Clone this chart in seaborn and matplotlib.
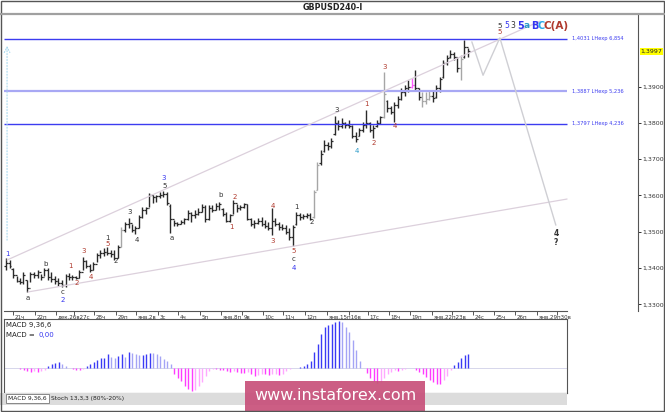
import numpy as np
import seaborn as sns
import matplotlib
matplotlib.use("Agg")
import matplotlib.pyplot as plt
from matplotlib.patches import Rectangle
from matplotlib.lines import Line2D
from matplotlib.transforms import blended_transform_factory

sns.set_style("white")
plt.rcParams['font.family'] = ['DejaVu Sans']

# ---------------- data (GBPUSD, 4H bars) ----------------
opens = [
1.3405,1.3415,1.3398,1.3380,1.3365,1.3362,1.3366,1.3346,1.3383,1.3380,
1.3388,1.3375,1.3395,1.3375,1.3370,1.3365,1.3360,1.3352,1.3378,1.3375,
1.3374,1.3372,1.3390,1.3420,1.3405,1.3395,1.3410,1.3436,1.3440,1.3445,
1.3442,1.3438,1.3428,1.3458,1.3505,1.3520,1.3525,1.3505,1.3510,1.3540,
1.3560,1.3565,1.3600,1.3595,1.3598,1.3600,1.3605,1.3570,1.3535,1.3525,
1.3522,1.3528,1.3535,1.3552,1.3545,1.3550,1.3555,1.3568,1.3535,1.3565,
1.3560,1.3570,1.3562,1.3548,1.3530,1.3545,1.3580,1.3565,1.3568,1.3575,
1.3535,1.3522,1.3525,1.3530,1.3520,1.3515,1.3510,1.3530,1.3522,1.3512,
1.3510,1.3500,1.3485,1.3520,1.3545,1.3540,1.3542,1.3545,1.3540,1.3615,
1.3688,1.3722,1.3740,1.3735,1.3768,1.3800,1.3790,1.3800,1.3795,1.3790,
1.3765,1.3765,1.3780,1.3795,1.3800,1.3780,1.3792,1.3800,1.3815,1.3860,
1.3840,1.3830,1.3850,1.3865,1.3885,1.3895,1.3900,1.3905,1.3895,1.3870,
1.3860,1.3865,1.3875,1.3870,1.3895,1.3925,1.3965,1.3980,1.3990,1.3980,
1.3950,1.3980,1.4010]
highs = [
1.3428,1.3422,1.3400,1.3378,1.3372,1.3389,1.3367,1.3389,1.3389,1.3394,
1.3383,1.3400,1.3400,1.3389,1.3378,1.3372,1.3367,1.3383,1.3386,1.3380,
1.3378,1.3394,1.3431,1.3422,1.3411,1.3416,1.3441,1.3449,1.3455,1.3458,
1.3450,1.3450,1.3463,1.3513,1.3527,1.3538,1.3521,1.3516,1.3546,1.3568,
1.3568,1.3607,1.3601,1.3601,1.3609,1.3612,1.3609,1.3576,1.3532,1.3527,
1.3532,1.3538,1.3560,1.3554,1.3560,1.3565,1.3576,1.3573,1.3573,1.3573,
1.3579,1.3582,1.3565,1.3554,1.3549,1.3587,1.3576,1.3573,1.3579,1.3576,
1.3538,1.3532,1.3538,1.3540,1.3532,1.3527,1.3565,1.3538,1.3527,1.3521,
1.3518,1.3510,1.3518,1.3554,1.3551,1.3549,1.3551,1.3551,1.3615,1.3692,
1.3725,1.3753,1.3747,1.3758,1.3819,1.3808,1.3813,1.3802,1.3808,1.3794,
1.3775,1.3786,1.3802,1.3835,1.3802,1.3794,1.3808,1.3819,1.3940,1.3863,
1.3846,1.3857,1.3874,1.3896,1.3904,1.3918,1.3923,1.3946,1.3896,1.3885,
1.3885,1.3890,1.3890,1.3904,1.3926,1.3973,1.3987,1.4001,1.3995,1.3981,
1.3987,1.4028,1.4006]
lows = [
1.3394,1.3400,1.3372,1.3361,1.3356,1.3356,1.3334,1.3361,1.3372,1.3372,
1.3367,1.3378,1.3367,1.3361,1.3356,1.3350,1.3347,1.3347,1.3367,1.3367,
1.3369,1.3372,1.3394,1.3400,1.3389,1.3394,1.3416,1.3427,1.3433,1.3436,
1.3430,1.3422,1.3427,1.3458,1.3499,1.3510,1.3499,1.3494,1.3510,1.3538,
1.3549,1.3568,1.3579,1.3582,1.3593,1.3595,1.3573,1.3496,1.3516,1.3516,
1.3521,1.3521,1.3532,1.3527,1.3538,1.3546,1.3554,1.3527,1.3532,1.3554,
1.3560,1.3560,1.3543,1.3527,1.3527,1.3549,1.3554,1.3560,1.3565,1.3532,
1.3516,1.3510,1.3521,1.3516,1.3510,1.3505,1.3491,1.3516,1.3505,1.3505,
1.3494,1.3477,1.3461,1.3518,1.3532,1.3535,1.3538,1.3532,1.3538,1.3615,
1.3684,1.3720,1.3725,1.3731,1.3766,1.3780,1.3786,1.3786,1.3786,1.3758,
1.3747,1.3764,1.3775,1.3786,1.3775,1.3758,1.3789,1.3797,1.3813,1.3830,
1.3824,1.3802,1.3841,1.3863,1.3874,1.3885,1.3896,1.3890,1.3863,1.3843,
1.3852,1.3863,1.3857,1.3868,1.3885,1.3923,1.3959,1.3979,1.3973,1.3940,
1.3918,1.3979,1.3981]
closes = [
1.3415,1.3405,1.3380,1.3365,1.3362,1.3380,1.3345,1.3383,1.3380,1.3388,
1.3375,1.3395,1.3375,1.3370,1.3365,1.3360,1.3352,1.3378,1.3375,1.3374,
1.3372,1.3390,1.3420,1.3405,1.3395,1.3410,1.3436,1.3440,1.3445,1.3442,
1.3438,1.3428,1.3458,1.3505,1.3520,1.3525,1.3505,1.3510,1.3540,1.3560,
1.3565,1.3600,1.3595,1.3598,1.3600,1.3605,1.3578,1.3535,1.3525,1.3522,
1.3528,1.3535,1.3552,1.3545,1.3550,1.3555,1.3568,1.3535,1.3565,1.3560,
1.3570,1.3575,1.3548,1.3530,1.3545,1.3580,1.3565,1.3568,1.3575,1.3535,
1.3522,1.3525,1.3530,1.3520,1.3515,1.3510,1.3530,1.3522,1.3512,1.3510,
1.3500,1.3485,1.3512,1.3545,1.3540,1.3542,1.3545,1.3535,1.3610,1.3685,
1.3715,1.3740,1.3735,1.3750,1.3800,1.3790,1.3800,1.3795,1.3790,1.3765,
1.3755,1.3780,1.3795,1.3800,1.3780,1.3785,1.3800,1.3815,1.3880,1.3840,
1.3830,1.3850,1.3865,1.3885,1.3895,1.3900,1.3905,1.3895,1.3870,1.3860,
1.3865,1.3875,1.3868,1.3895,1.3920,1.3965,1.3978,1.3990,1.3980,1.3950,
1.3975,1.4010,1.3997]
# MACD 9,36,6 histogram, in pips
macd = [
0,0.3,0,-0.3,-0.5,-1.3,-2.4,-2.9,-2.7,-2.9,
-2.4,-1.3,1.9,2.9,4.0,4.5,3.5,1.9,0.0,-0.5,
-1.3,-1.9,-0.5,1.3,3.5,5.1,6.7,8.3,8.3,10.9,
8.8,8.3,9.3,11.5,8.8,12.8,12.3,11.5,10.1,10.1,
11.5,12.3,12.0,10.9,9.3,7.5,5.3,2.9,-4.5,-7.7,
-10.4,-14.7,-16.8,-18.4,-17.3,-14.7,-11.2,-6.7,-2.4,-0.8,
-0.8,-1.3,-1.9,-2.7,-3.2,-2.7,-3.2,-4.0,-4.0,-3.5,
-4.5,-6.7,-5.6,-4.5,-5.1,-5.6,-5.1,-4.5,-5.6,-4.5,
-2.4,-0.8,-0.3,0.0,0.8,1.9,3.5,5.3,12.8,19.5,
26.9,32.8,34.4,35.5,36.8,37.3,36.5,32.8,28.8,22.1,
14.1,5.3,0.0,-4.0,-7.7,-10.4,-12.0,-11.2,-7.7,-5.1,
-2.9,-1.9,-2.4,-1.9,-0.8,-0.3,0.0,-1.9,-3.5,-5.1,
-7.2,-9.3,-11.5,-12.5,-13.1,-9.9,-6.7,-1.3,2.1,4.8,
8.0,10.7,11.5]
light_bars = [33, 88, 89, 108, 119, 120, 121, 130]
pink_bars = [116]

# day starts on the time axis; "" where the label merges into the previous one
day_labels = ["21ч", "22п", "дек.26в27с", "", "28ч", "29п", "янв.2в", "3с", "4ч", "5п",
              "янв.8п", "9в", "10с", "11ч", "12п", "янв.15п16в", "", "17с", "18ч", "19п",
              "янв.22п23в", "", "24с", "25ч", "26п", "янв.29п30в", ""]
day_ticks = [2, 8.3, 14.3, 19.4, 25.1, 31.4, 37.1, 43.4, 49.1, 55.4,
             61.4, 67.4, 73.4, 79.1, 85.4, 91.7, 98, 103.4, 109.4, 115.4,
             121.7, 127.4, 133.4, 139.4, 145.4, 151.7, 157.4]

levels = [1.4031, 1.3887, 1.3797]
level_texts = ["1,4031 LHexp 6,854", "1,3887 LHexp 5,236", "1,3797 LHexp 4,236"]
level_colors = ["#3c3cf0", "#a8a8f4", "#3c3cf0"]
last_price = 1.3997

# wave counts: bar position, price, text, colour key
waves = [
    (0.3, 1.3439, '1', 'b'), (6.3, 1.3317, 'a', 'k'), (11.4, 1.3411, 'b', 'k'),
    (16.3, 1.3334, 'c', 'k'), (16.3, 1.3312, '2', 'b'), (18.3, 1.3406, '1', 'r'),
    (20.3, 1.3359, '2', 'r'), (22.3, 1.3447, '3', 'r'), (24.3, 1.3375, '4', 'r'),
    (29.1, 1.3483, '1', 'k'), (29.1, 1.3466, '5', 'r'), (31.4, 1.3419, '2', 'k'),
    (35.4, 1.3554, '3', 'k'), (37.4, 1.3477, '4', 'k'), (45.1, 1.3648, '3', 'b'),
    (45.4, 1.3626, '5', 'k'), (47.4, 1.3483, 'a', 'k'), (61.4, 1.3601, 'b', 'k'),
    (64.3, 1.3513, '1', 'r'), (65.4, 1.3596, '2', 'r'), (76.3, 1.3571, '4', 'r'),
    (76.3, 1.3474, '3', 'r'), (82.3, 1.3447, '5', 'r'), (82.3, 1.3425, 'c', 'k'),
    (82.3, 1.3400, '4', 'b'), (83.1, 1.3568, '1', 'k'), (87.4, 1.3527, '2', 'k'),
    (94.6, 1.3835, '3', 'k'), (100.3, 1.3722, '4', 't'), (103.1, 1.3852, '1', 'r'),
    (105.1, 1.3744, '2', 'r'), (108.3, 1.3954, '3', 'r'), (111.1, 1.3791, '4', 'r'),
    (141.1, 1.4050, '5', 'r'),
]
# stacked degree labels at the projected top
top_x = [141.1, 143.1, 144.9, 147.1, 148.9, 151.1, 152.9, 157.1]
top_txt = ['5', '5', '3', '5', 'a', 'B', 'C', 'C(A)']
top_col = ['k', 'b', 'k', 'b', 't', 'b', 'c', 'r']
top_size = [5.2, 5.5, 5.5, 7, 6.5, 7, 7, 7.5]
top_price = 1.4067

upper_line = ([0.3, 152.6], [1.3422, 1.4080])
lower_line = ([6.3, 160.3], [1.3334, 1.3590])
zig_x = [133.1, 136.3, 141.1, 157.1]
zig_y = [1.4023, 1.3931, 1.4034, 1.3518]

cols = {'k': '#333333', 'r': '#b03a2e', 'b': '#3535f0', 't': '#2a9ac8', 'c': '#28a8e8'}

# ---------------- figure ----------------
W, H = 665, 412
fig = plt.figure(figsize=(W / 100, H / 100), dpi=100)
fig.patch.set_facecolor('white')

def px(x0, y0, x1, y1):
    return [x0 / W, 1 - y1 / H, (x1 - x0) / W, (y1 - y0) / H]

def bx(x):  # pixel x -> bar index
    return (x - 6) / 3.5

ax = fig.add_axes(px(4, 15, 638, 311))
ax.set_xlim(bx(4), bx(638))
ax.set_ylim(1.33 + (304.3 - 311) / 3630, 1.33 + (304.3 - 15) / 3630)

idx = np.arange(len(closes))
o, hi, lo, c = map(np.array, (opens, highs, lows, closes))
bar_col = ['#2a2a2a'] * len(idx)
for i in light_bars:
    bar_col[i] = '#a6a6a6'
for i in pink_bars:
    bar_col[i] = '#ff5cff'
ax.vlines(idx, lo, hi, colors=bar_col, lw=1.0)
ax.hlines(o, idx - 0.45, idx, colors=bar_col, lw=0.9)
ax.hlines(c, idx, idx + 0.45, colors=bar_col, lw=0.9)

# levels
for lv, t, lc in zip(levels, level_texts, level_colors):
    ax.hlines(lv, bx(4), bx(567), colors=lc, lw=1.6 if lc == '#a8a8f4' else 1.0)
    ax.text(bx(572), lv, t, fontsize=3.7, color='#3c3cf0', va='center', ha='left')

# channel and projection lines
ax.plot(*upper_line, color='#dcd0dc', lw=0.9)
ax.plot(*lower_line, color='#dcd0dc', lw=0.9)
sns.lineplot(x=zig_x, y=zig_y, ax=ax, color='#cfcfd4', lw=1.0, sort=False, estimator=None)
ax.annotate('', xy=(0.3, 1.4020), xytext=(0.3, 1.3469),
            arrowprops=dict(arrowstyle='->', color='#a8d8ee', lw=0.8, linestyle=':'))

for x, y, t, k in waves:
    ax.text(x, y, t, fontsize=5, color=cols[k], ha='center', va='center')
for x, t, k, s in zip(top_x, top_txt, top_col, top_size):
    ax.text(x, top_price, t, fontsize=s, color=cols[k], ha='center', va='center',
            weight='bold' if s >= 6.5 else 'normal')
ax.text(157.1, 1.3496, '4', fontsize=5.5, color='#333333', ha='center', va='center', weight='bold')
ax.text(157.1, 1.3471, '?', fontsize=5.5, color='#333333', ha='center', va='center', weight='bold')

# axes styling
for s in ['left', 'top']:
    ax.spines[s].set_visible(False)
ax.spines['right'].set_color('#555555')
ax.spines['bottom'].set_color('#555555')
ax.spines['bottom'].set_bounds(bx(4), bx(567))
ax.yaxis.tick_right()
yt = [1.33, 1.34, 1.35, 1.36, 1.37, 1.38, 1.39]
ax.set_yticks(yt)
ax.set_yticklabels([f"{v:.4f}".replace('.', ',') for v in yt])
ax.tick_params(axis='y', length=2, width=0.7, pad=0.8, labelsize=4.5, colors='#333333')
ax.set_xticks(day_ticks)
ax.set_xticklabels([])
ax.tick_params(axis='x', length=3, width=0.7, direction='out', colors='#555555', bottom=True)
tr = blended_transform_factory(ax.transData, ax.transAxes)
for t, lab in zip(day_ticks, day_labels):
    if lab:
        ax.text(t + 0.4, -0.012, lab, transform=tr, fontsize=4.0, color='#333333',
                ha='left', va='top')
ax.text(1.004, last_price, "1,3997", transform=ax.get_yaxis_transform(), fontsize=4.5,
        va='center', ha='left', color='#222222',
        bbox=dict(boxstyle='square,pad=0.15', fc='#ffff00', ec='none'))
ax.grid(False)

# MACD panel
mx = fig.add_axes(px(4, 319, 567, 393))
mx.set_xlim(bx(4), bx(567))
mx.set_ylim(-20, 39.2)
mv = np.array(macd)
mcol = []
for i, v in enumerate(mv):
    prev = mv[i - 1] if i else v
    if v >= 0:
        mcol.append('#3a3af5' if v >= prev else '#a4a4f5')
    else:
        mcol.append('#ff3cff' if v <= prev else '#ffa8ff')
mx.vlines(idx, 0, mv, colors=mcol, lw=1.0)
mx.axhline(0, color='#d0d0e8', lw=0.6, zorder=0)
mx.set_xticks([])
mx.set_yticks([])
for s in mx.spines.values():
    s.set_color('#555555')
    s.set_linewidth(0.8)
mx.text(0.004, 0.92, "MACD 9,36,6", transform=mx.transAxes, fontsize=5, color='#222222', va='center')
mx.text(0.004, 0.79, "MACD =", transform=mx.transAxes, fontsize=5, color='#222222', va='center')
mx.text(0.061, 0.79, "0,00", transform=mx.transAxes, fontsize=5, color='#3535f0', va='center')

# tab strip
fig.add_artist(Rectangle((0, 1 - 405 / H), 567 / W, 12 / H, transform=fig.transFigure,
                         fc='#dcdcdc', ec='none'))
fig.add_artist(Rectangle((6 / W, 1 - 403 / H), 43 / W, 9 / H, transform=fig.transFigure,
                         fc='white', ec='#777777', lw=0.6))
fig.text(8 / W, 1 - 398.5 / H, "MACD 9,36,6", fontsize=4.3, va='center', color='#222222')
fig.text(51 / W, 1 - 398.5 / H, "Stoch 13,3,3 (80%-20%)", fontsize=4.3, va='center', color='#222222')

# watermark
fig.add_artist(Rectangle((245 / W, 1 - 411 / H), 180 / W, 30 / H, transform=fig.transFigure,
                         fc='#c8507a', ec='none', alpha=0.92))
fig.text(335 / W, 1 - 396 / H, "www.instaforex.com", fontsize=11.5, color='white',
         ha='center', va='center')

# title bar and frame
fig.text(0.5, 1 - 7.5 / H, "GBPUSD240-I", ha='center', va='center', fontsize=5.8,
         weight='bold', color='#222222')
fig.add_artist(Line2D([0, 1], [1 - 13.5 / H] * 2, color='#a0a0a0', lw=1.6))
fig.add_artist(Rectangle((0.0015, 0.002), 0.997, 0.996, transform=fig.transFigure,
                         fc='none', ec='#555555', lw=1.0))

fig.savefig('out.png', dpi=100)
